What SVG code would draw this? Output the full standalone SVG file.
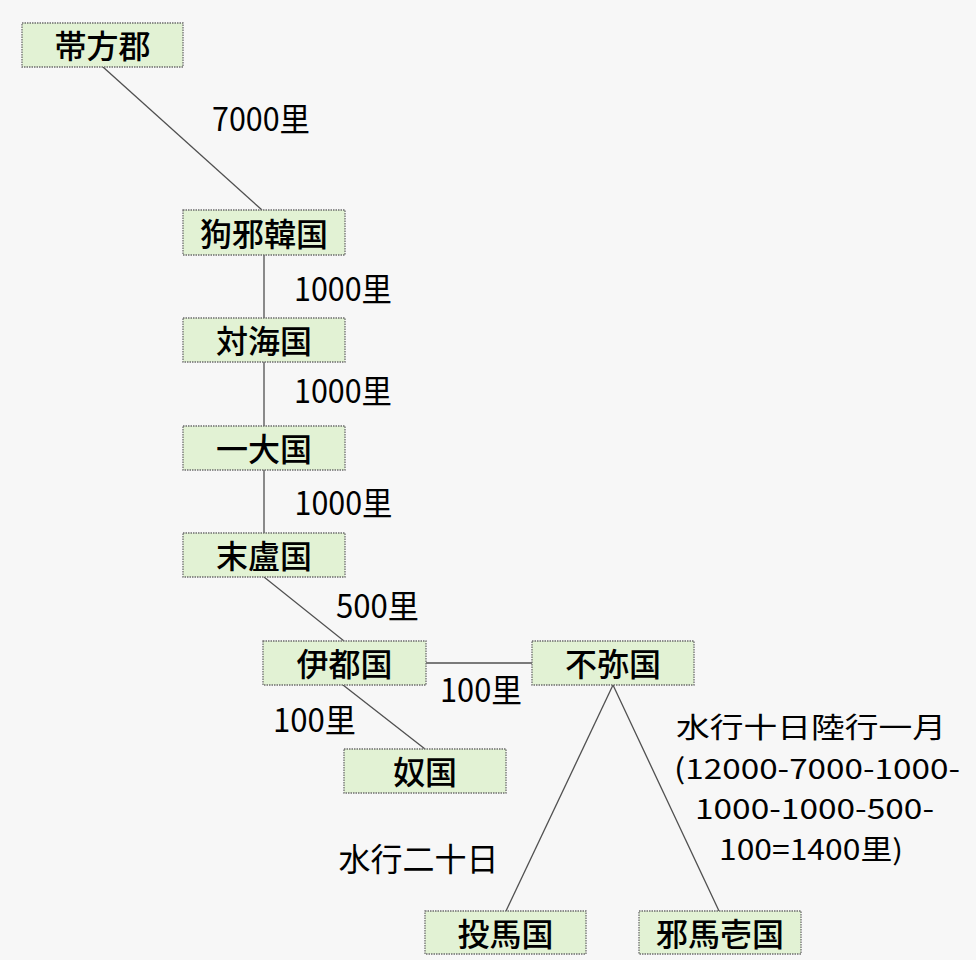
<svg xmlns="http://www.w3.org/2000/svg" width="976" height="960" viewBox="0 0 976 960">
<style>
.bg{fill:#f7f7f7}
.box{fill:#e2f2d4;stroke:#6e6e6e;stroke-width:1.3;stroke-dasharray:1.5 1}
.edge{stroke:#505050;stroke-width:1.3;fill:none}
text{font-family:"Noto Sans CJK JP","Noto Sans CJK SC",sans-serif;font-size:32px;fill:#000;text-anchor:middle;dominant-baseline:central}
.nt{font-weight:500}
.ml{font-size:28px}
</style>
<rect class="bg" x="0" y="0" width="976" height="960"/>
<g id="connectors">
<line class="edge" x1="103" y1="67" x2="262" y2="210"/>
<line class="edge" x1="264" y1="255" x2="264" y2="318"/>
<line class="edge" x1="264" y1="362" x2="264" y2="426"/>
<line class="edge" x1="264" y1="470" x2="264" y2="533"/>
<line class="edge" x1="264" y1="577" x2="344" y2="641"/>
<line class="edge" x1="426" y1="663" x2="532" y2="663"/>
<line class="edge" x1="343" y1="685" x2="425" y2="749"/>
<line class="edge" x1="613" y1="685" x2="506" y2="911"/>
<line class="edge" x1="613" y1="685" x2="719" y2="911"/>
</g>
<g id="n-taihou"><rect class="box" x="22" y="23" width="161" height="44"/><text class="nt" x="102.5" y="44">帯方郡</text></g>
<g id="n-kuyakan"><rect class="box" x="183" y="210" width="162" height="45"/><text class="nt" x="264" y="232">狗邪韓国</text></g>
<g id="n-tsushima"><rect class="box" x="183" y="318" width="162" height="44"/><text class="nt" x="264" y="339">対海国</text></g>
<g id="n-ichidai"><rect class="box" x="183" y="426" width="162" height="44"/><text class="nt" x="264" y="447">一大国</text></g>
<g id="n-matsuro"><rect class="box" x="183" y="533" width="162" height="44"/><text class="nt" x="264" y="554">末盧国</text></g>
<g id="n-ito"><rect class="box" x="263" y="641" width="163" height="44"/><text class="nt" x="344.5" y="662">伊都国</text></g>
<g id="n-fumi"><rect class="box" x="532" y="641" width="162" height="44"/><text class="nt" x="613" y="662">不弥国</text></g>
<g id="n-na"><rect class="box" x="344" y="749" width="162" height="44"/><text class="nt" x="425" y="770">奴国</text></g>
<g id="n-touma"><rect class="box" x="425" y="911" width="161" height="43"/><text class="nt" x="505.5" y="931.5">投馬国</text></g>
<g id="n-yamaichi"><rect class="box" x="639" y="911" width="162" height="43"/><text class="nt" x="720" y="931.5">邪馬壱国</text></g>
<g id="labels">
<text x="261" y="117" textLength="98" lengthAdjust="spacingAndGlyphs">7000里</text>
<text x="343" y="287" textLength="98" lengthAdjust="spacingAndGlyphs">1000里</text>
<text x="343" y="389" textLength="98" lengthAdjust="spacingAndGlyphs">1000里</text>
<text x="343.5" y="501" textLength="98" lengthAdjust="spacingAndGlyphs">1000里</text>
<text x="377.5" y="604" textLength="83" lengthAdjust="spacingAndGlyphs">500里</text>
<text x="481" y="688" textLength="82" lengthAdjust="spacingAndGlyphs">100里</text>
<text x="314.5" y="718" textLength="83" lengthAdjust="spacingAndGlyphs">100里</text>
<text x="418.5" y="857">水行二十日</text>
<text class="ml" x="811" y="726" textLength="270" lengthAdjust="spacingAndGlyphs">水行十日陸行一月</text>
<text class="ml" x="817" y="767" textLength="286" lengthAdjust="spacingAndGlyphs">(12000-7000-1000-</text>
<text class="ml" x="814.5" y="807" textLength="239" lengthAdjust="spacingAndGlyphs">1000-1000-500-</text>
<text class="ml" x="811" y="848" textLength="184" lengthAdjust="spacingAndGlyphs">100=1400里)</text>
</g>
</svg>
